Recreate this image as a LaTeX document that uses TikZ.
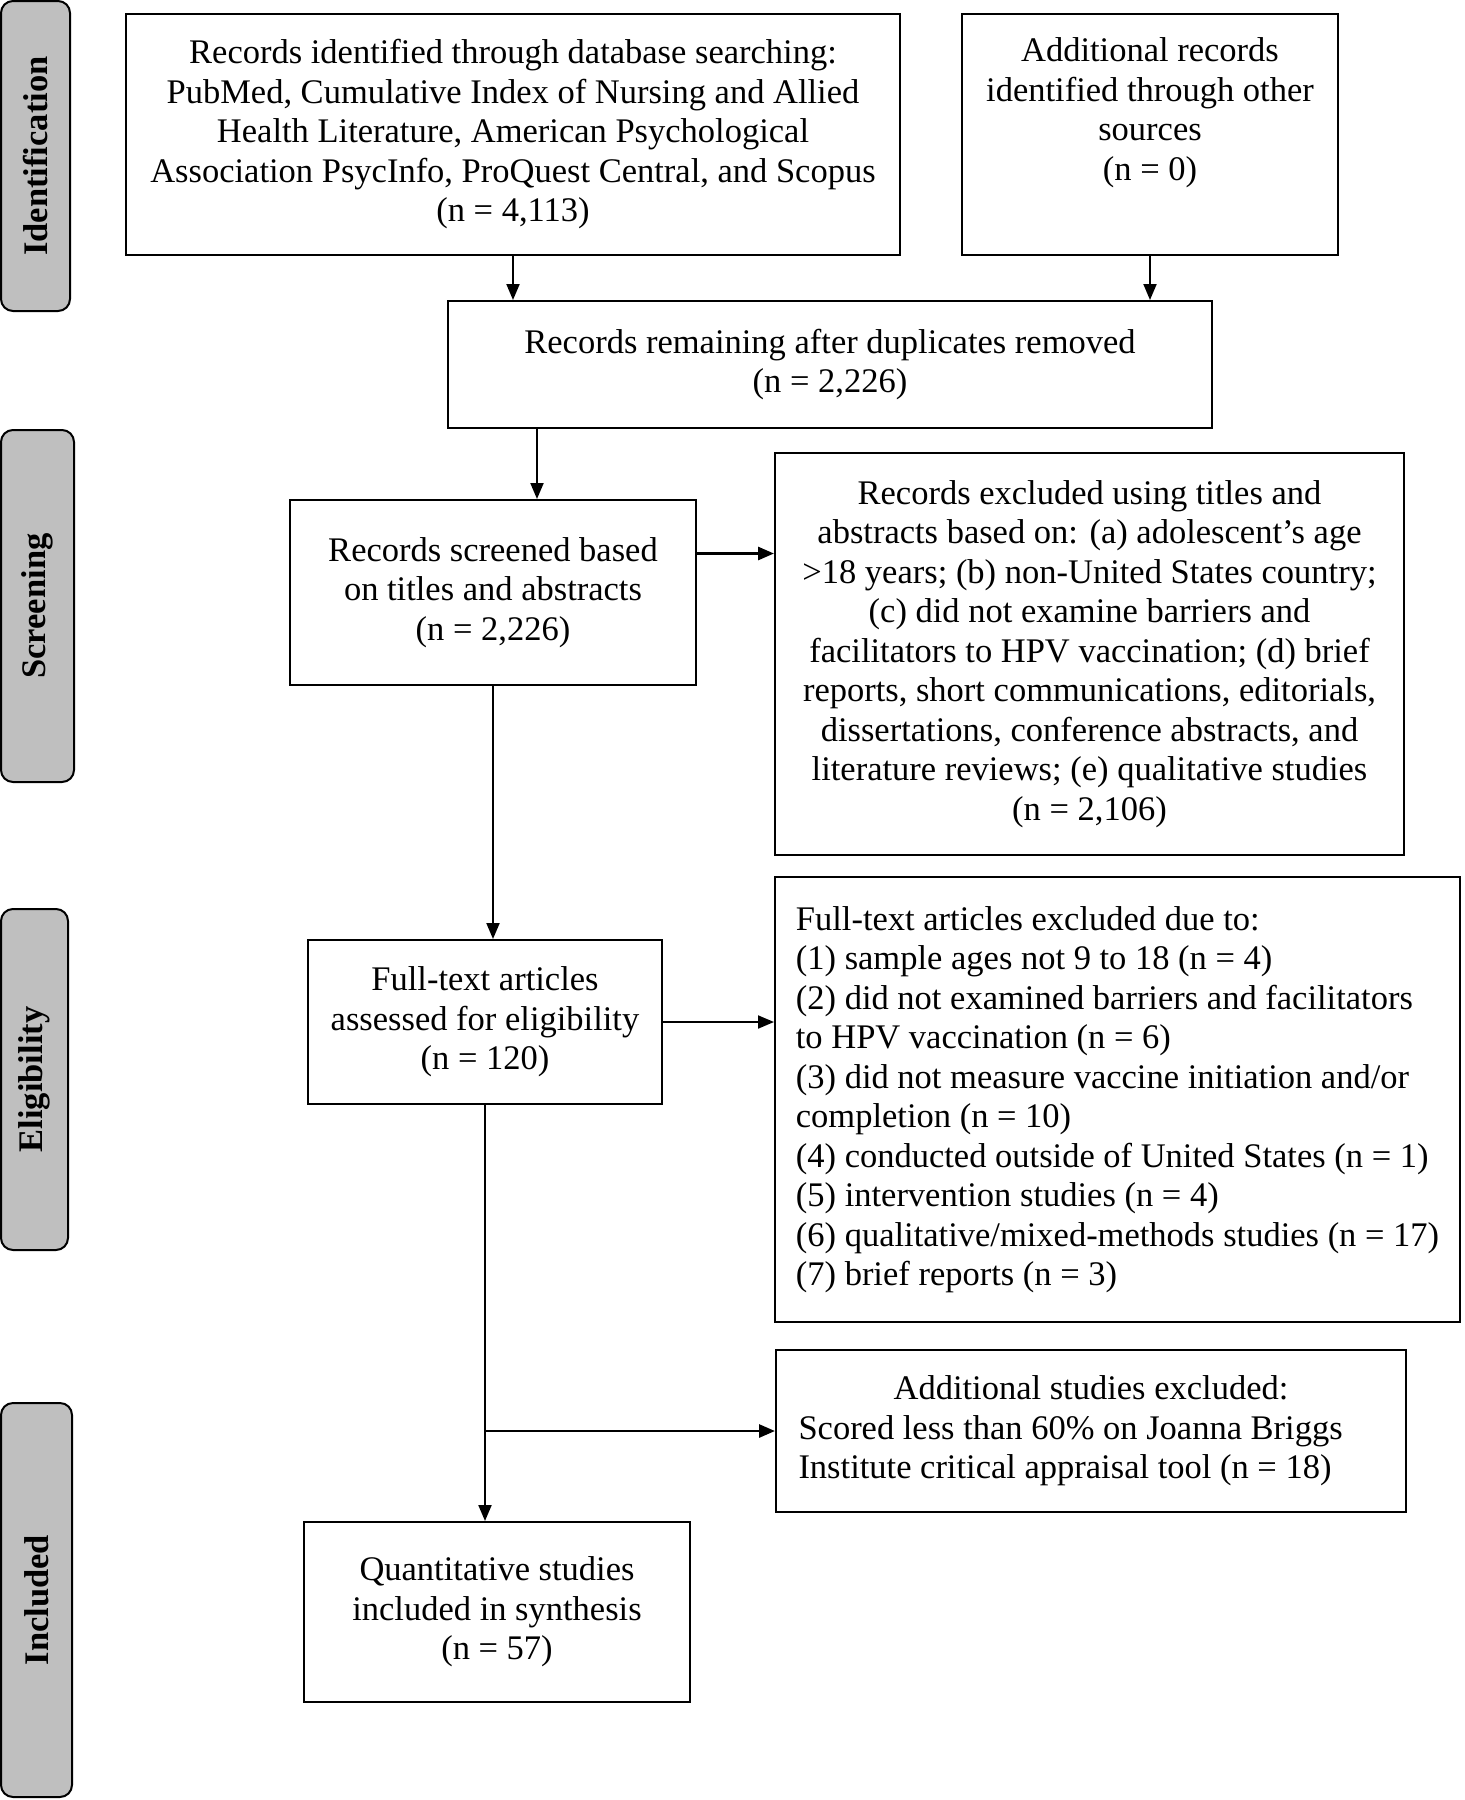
\documentclass[tikz,border=0pt]{standalone}
\usepackage{fontspec}
\setmainfont{Liberation Serif}
\usetikzlibrary{arrows.meta}
\definecolor{phasegray}{RGB}{191,191,191}

\begin{document}
\begin{tikzpicture}[x=0.5pt, y=-0.5pt,
    font=\fontsize{17.25pt}{19.75pt}\selectfont,
    box/.style={draw, line width=1pt, inner sep=0pt, align=center},
    phase/.style={draw, line width=1pt, fill=phasegray, rounded corners=6pt,
      rotate=90, inner sep=0pt, font=\fontsize{17.25pt}{19.75pt}\selectfont\bfseries},
    arr/.style={-{Triangle[length=8pt, width=6.5pt]}, line width=1pt}]

        \useasboundingbox (0,0) rectangle (1465,1800);

        % phases
        \node [phase, minimum width=155pt, minimum height=34.5pt] (ident) at (35.5, 156) {Identification};
        \node [phase, minimum width=176pt, minimum height=36.5pt] (scr) at (37.5, 606) {Screening};
        \node [phase, minimum width=170.5pt, minimum height=33.5pt] (elig) at (34.5, 1079.5) {Eligibility};
        \node [phase, minimum width=197pt, minimum height=35.5pt] (incl) at (36.5, 1600) {Included};

        % boxes
        \node [box, minimum width=387pt, minimum height=120.5pt] (db) at (513, 134.5) {Records identified through database searching:\\PubMed, Cumulative Index of Nursing and Allied\\Health Literature, American Psychological\\Association PsycInfo, ProQuest Central, and Scopus\\(n = 4,113)};
        \node [box, minimum width=188pt, minimum height=120.5pt] (other) at (1150, 134.5) {Additional records\\identified through other\\sources\\(n = 0)\\\strut};
        \node [box, minimum width=382pt, minimum height=63.5pt] (dup) at (830, 364.5) {Records remaining after duplicates removed\\(n = 2,226)};
        \node [box, minimum width=203pt, minimum height=92.5pt] (screen) at (493, 592.5) {Records screened based\\on titles and abstracts\\(n = 2,226)};
        \node [box, minimum width=314.5pt, minimum height=201pt] (excl) at (1089.5, 654) {Records excluded using titles and\\abstracts based on: (a) adolescent’s age\\>18 years; (b) non-United States country;\\(c) did not examine barriers and\\facilitators to HPV vaccination; (d) brief\\reports, short communications, editorials,\\dissertations, conference abstracts, and\\literature reviews; (e) qualitative studies\\(n = 2,106)};
        \node [box, minimum width=177pt, minimum height=82pt] (full) at (485, 1022) {Full-text articles\\assessed for eligibility\\(n = 120)};
        \node [box, align=left, minimum width=342.5pt, minimum height=222.5pt] (fullexcl) at (1117.5, 1099.5) {Full-text articles excluded due to:\\(1) sample ages not 9 to 18 (n = 4)\\(2) did not examined barriers and facilitators\\to HPV vaccination (n = 6)\\(3) did not measure vaccine initiation and/or\\completion (n = 10)\\(4) conducted outside of United States (n = 1)\\(5) intervention studies (n = 4)\\(6) qualitative/mixed-methods studies (n = 17)\\(7) brief reports (n = 3)};
        \node [box, align=left, minimum width=315pt, minimum height=81pt] (addl) at (1091, 1431) {\makebox[292.5pt]{Additional studies excluded:}\\Scored less than 60\% on Joanna Briggs\\Institute critical appraisal tool (n = 18)};
        \node [box, minimum width=193pt, minimum height=90pt] (quant) at (497, 1612) {Quantitative studies\\included in synthesis\\(n = 57)};

        \coordinate (sin) at ([xshift=22pt]screen.north);
        \coordinate (sout) at ([yshift=19.5pt]screen.east);

        % arrows
        \draw [arr] (db.south) -- (db.south |- dup.north);
        \draw [arr] (other.south) -- (other.south |- dup.north);
        \draw [arr] (sin |- dup.south) -- (sin);
        \draw [arr, line width=1.4pt] (sout) -- (sout -| excl.west);
        \draw [arr] (screen.south) -- (screen.south |- full.north);
        \draw [arr] (full.east) -- (full.east -| fullexcl.west);
        \draw [arr] (full.south) -- (full.south |- quant.north);
        \draw [arr, line width=1.4pt] (full.south |- addl.west) -- (addl.west);

    \end{tikzpicture}
\end{document}
